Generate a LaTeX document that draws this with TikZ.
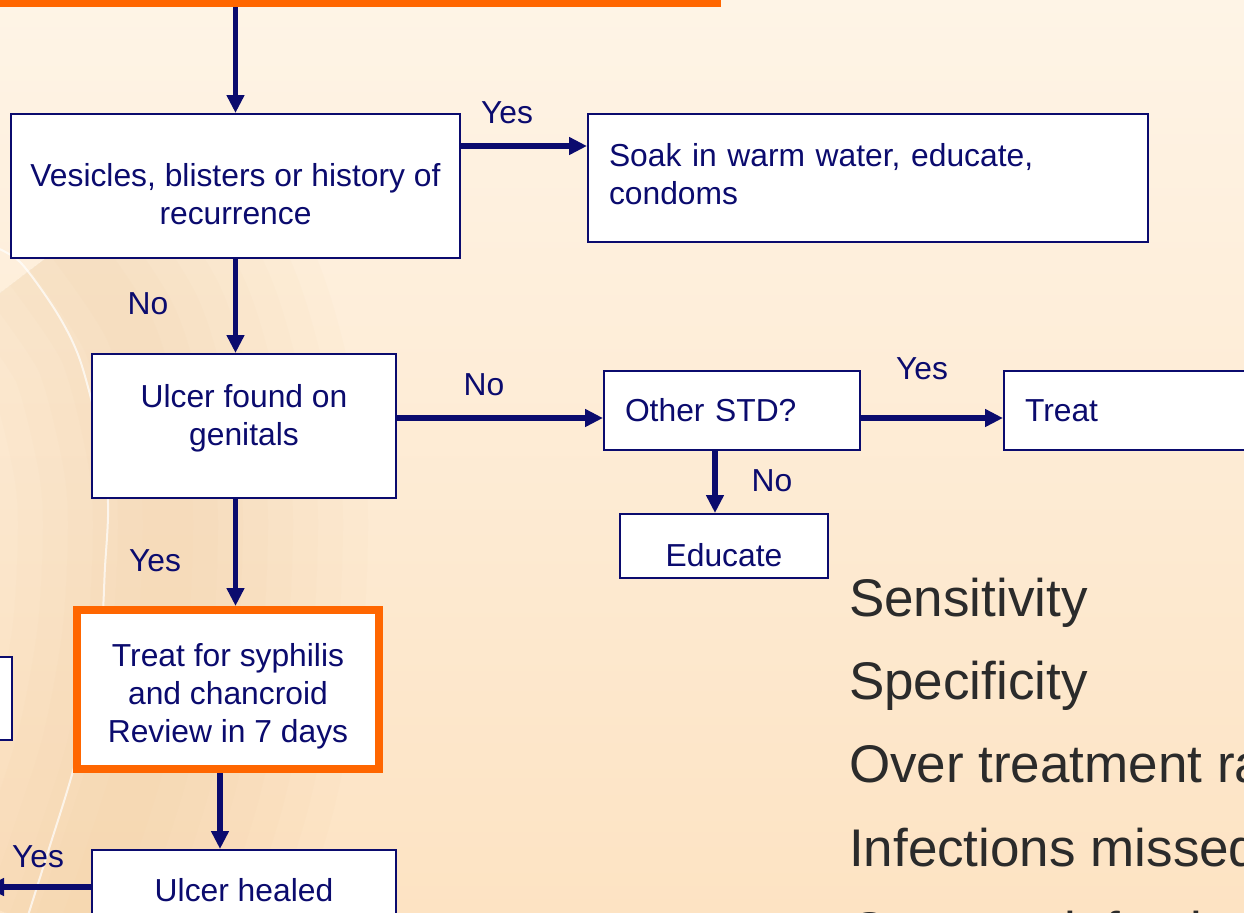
\documentclass[tikz,border=0pt]{standalone}
\usepackage{fontspec}
\setmainfont{Liberation Sans}
\usetikzlibrary{arrows.meta}

\definecolor{navy}{HTML}{0B0B6E}
\definecolor{hiorange}{HTML}{FF6600}
\definecolor{slidegray}{HTML}{2B2B2B}
\definecolor{bgtop}{HTML}{FEF4E6}
\definecolor{bgbot}{HTML}{FDE3C3}
\definecolor{bgband}{HTML}{F6C690}

% invisible struts to push box text up or down
\newcommand{\padtop}[1]{\rule{0pt}{#1}}
\newcommand{\padbot}[1]{\rule[-#1]{0pt}{#1}}

\begin{document}
\begin{tikzpicture}[x=0.5pt, y=-0.5pt,
  box/.style={draw=navy, line width=1pt, fill=white, text=navy, align=center,
    inner sep=0pt, font=\fontsize{15.9}{19}\selectfont},
  hilite/.style={box, draw=hiorange, line width=4pt},
  flow/.style={navy, line width=2.7pt, -{Triangle[length=9pt,width=8.5pt]}},
  answer/.style={text=navy, font=\fontsize{15.9}{19}\selectfont},
  point/.style={text=slidegray, anchor=base west, font=\fontsize{26.5}{32}\selectfont}]

\useasboundingbox (0,0) rectangle (1244,912);
\clip (0,0) rectangle (1244,912);

% slide background
\shade[top color=bgtop, bottom color=bgbot] (0,0) rectangle (1244,912);
\foreach \w in {200,175,150,125,100,75,50,25}
  \draw[bgband, line width=\w pt, opacity=0.045]
    plot[smooth] coordinates {(70,240) (130,330) (160,440) (168,520) (162,640) (140,760) (105,870) (80,940)};
\draw[white, line width=1pt, opacity=0.7]
  plot[smooth] coordinates {(-10,245) (20,262) (57,313) (80,360) (100,437) (108,503) (105,567) (100,640) (77,756) (47,855) (25,925)};

\node (start) [hilite, minimum width=368.5pt, minimum height=80pt] at (348.5,-77) {};

\node (ves) [box, minimum width=224.5pt, minimum height=72pt] at (235.5,186) {\padtop{19.5pt}Vesicles, blisters or history of\\recurrence};
\node (soak) [box, minimum width=280pt, minimum height=64pt, text width=259pt, align=left] at (868,178) {Soak in warm water, educate,\\condoms\padbot{4pt}};

\node (ulc) [box, minimum width=152pt, minimum height=72pt] at (244,426) {Ulcer found on\\genitals\padbot{11.5pt}};
\node (other) [box, minimum width=128pt, minimum height=39.5pt, text width=107pt, align=left] at (732,410.5) {Other STD?};
\node (treat) [box, minimum width=150pt, minimum height=39.5pt, text width=129pt, align=left] at (1154,410.5) {Treat};
\node (edu) [box, minimum width=104pt, minimum height=32pt] at (724,546) {\padtop{20.3pt}Educate};

\node (syph) [hilite, minimum width=151pt, minimum height=79.5pt] at (228,689.5) {\padtop{18.3pt}Treat for syphilis\\and chancroid\\Review in 7 days};
\node (prev) [box, minimum width=112pt, minimum height=41.5pt] at (-100,698.5) {};
\node (heal) [box, minimum width=152pt, minimum height=40pt] at (244,890) {Ulcer healed};
\coordinate (out) at (-14,887);

\node (yes1) [answer] at (507,113) {Yes};
\node (no1) [answer] at (148,304) {No};
\node (no2) [answer] at (484,385) {No};
\node (yes2) [answer] at (922,369) {Yes};
\node (no3) [answer] at (772,481) {No};
\node (yes3) [answer] at (155,561) {Yes};
\node (yes4) [answer] at (38,857) {Yes};

\node (sens) [point] at (842,616) {Sensitivity};
\node (spec) [point] at (842,699) {Specificity};
\node (over) [point] at (842,782) {Over treatment rate};
\node (miss) [point] at (842,866) {Infections missed};
\node (cost) [point] at (842,949) {Cost per infection};

\draw[flow] (start.south -| ves.north) -- (ves.north);
\draw[flow] ([yshift=20pt]ves.east) -- ([yshift=20pt]ves.east -| soak.west);
\draw[flow] (ves.south) -- (ves.south |- ulc.north);
\draw[flow] ([yshift=-3.75pt]other.west -| ulc.east) -- ([yshift=-3.75pt]other.west);
\draw[flow] ([yshift=-3.75pt]other.east) -- ([yshift=-3.75pt]other.east -| treat.west);
\draw[flow] ([xshift=-8.5pt]other.south) -- ([xshift=-8.5pt]other.south |- edu.north);
\draw[flow] (ves.south |- ulc.south) -- (ves.south |- syph.north);
\draw[flow] ([xshift=-4pt]syph.south) -- ([xshift=-4pt]syph.south |- heal.north);
\draw[flow] ([yshift=1.5pt]heal.west) -- ([yshift=1.5pt]heal.west -| out);

\end{tikzpicture}
\end{document}
